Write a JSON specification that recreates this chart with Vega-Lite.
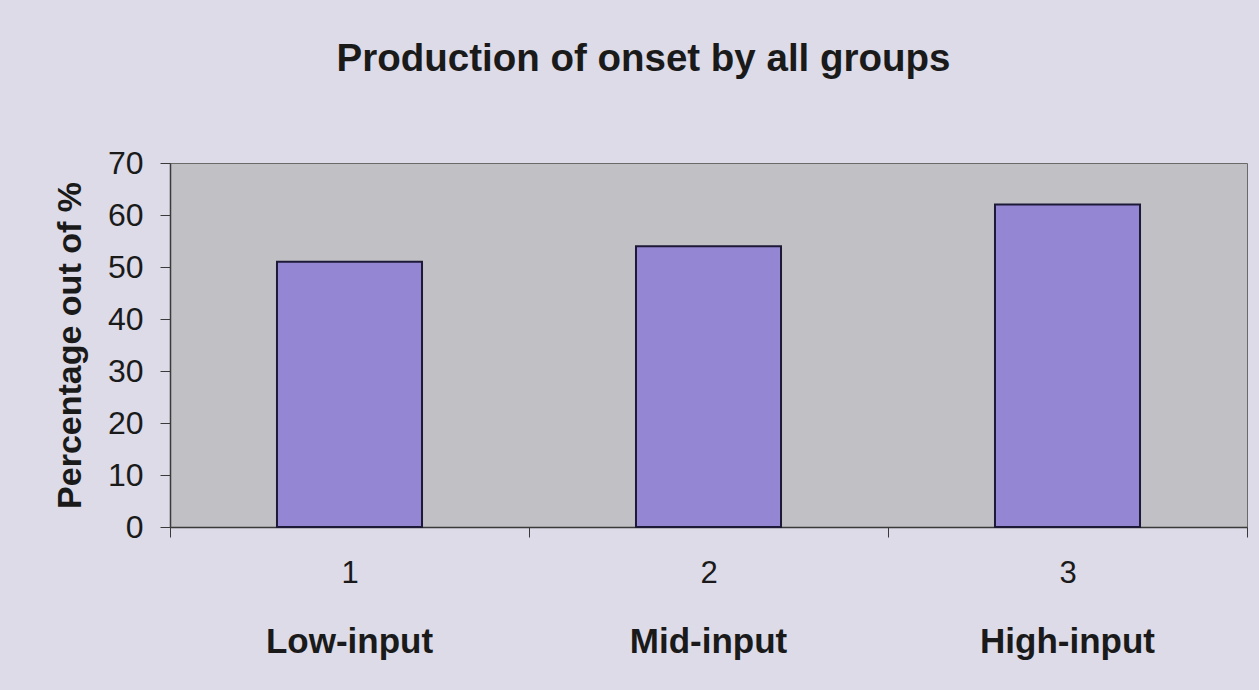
{
  "$schema": "https://vega.github.io/schema/vega-lite/v6.json",
  "autosize": "none",
  "width": 1077,
  "height": 364,
  "padding": {"left": 170, "top": 163, "right": 12, "bottom": 163},
  "background": "#dcdbe7",
  "title": {
    "text": "Production of onset by all groups",
    "font": "Liberation Sans",
    "fontSize": 38.5,
    "fontWeight": "bold",
    "color": "#1a1a1a",
    "anchor": "middle",
    "frame": "group",
    "dx": -65,
    "offset": 68
  },
  "config": {
    "view": {"fill": "#c1c0c5", "stroke": "#6a6a6a", "strokeWidth": 1},
    "axis": {"labelFont": "Liberation Sans", "titleFont": "Liberation Sans", "labelColor": "#1a1a1a", "titleColor": "#1a1a1a", "domainColor": "#3a3a3a", "tickColor": "#3a3a3a", "grid": false}
  },
  "data": {
    "values": [
      {"num": "1", "group": "Low-input", "value": 51},
      {"num": "2", "group": "Mid-input", "value": 54},
      {"num": "3", "group": "High-input", "value": 62}
    ]
  },
  "layer": [
    {
      "mark": {"type": "bar", "opacity": 0},
      "encoding": {
        "x": {"field": "num", "type": "ordinal", "scale": {"paddingInner": 0, "paddingOuter": 0},
          "axis": {"title": null, "labelAngle": 0, "labelFontSize": 31, "labelPadding": 21, "tickSize": 10, "tickBand": "extent", "domainWidth": 1.5}},
        "y": {"field": "value", "type": "quantitative", "scale": {"domain": [0, 70]},
          "axis": {"title": "Percentage out of %", "titleFontSize": 34, "titleFontWeight": "bold", "titlePadding": 20, "labelFontSize": 32, "labelPadding": 17, "tickSize": 10, "values": [0,10,20,30,40,50,60,70], "domainWidth": 1.5}}
      }
    },
    {
      "mark": {"type": "bar", "fill": "#9486d2", "stroke": "#1c1a36", "strokeWidth": 2, "width": {"band": 0.404}},
      "encoding": {
        "x": {"field": "group", "type": "nominal", "sort": null, "scale": {"paddingInner": 0, "paddingOuter": 0},
          "axis": {"title": null, "orient": "bottom", "labelAngle": 0, "labelFontSize": 35, "labelFontWeight": "bold", "labelPadding": 97, "ticks": false, "domain": false}},
        "y": {"field": "value", "type": "quantitative", "scale": {"domain": [0, 70]}}
      }
    }
  ],
  "resolve": {"scale": {"x": "independent"}, "axis": {"x": "independent"}}
}
